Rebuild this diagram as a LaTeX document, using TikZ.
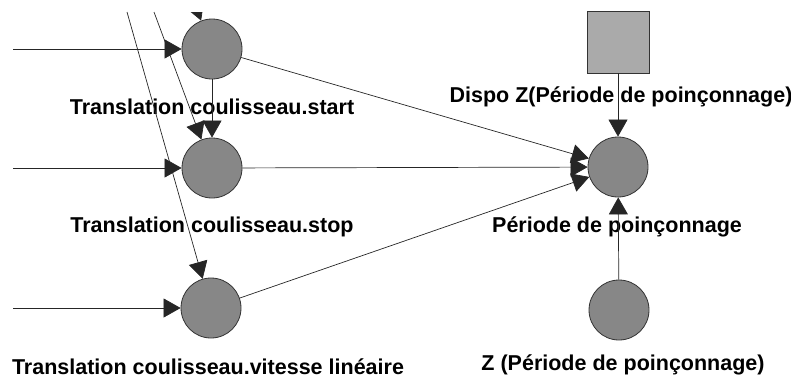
\documentclass[tikz,border=0pt]{standalone}
\usepackage{fontspec}
\setmainfont{Liberation Sans}
\usetikzlibrary{arrows.meta}
\definecolor{circgray}{RGB}{135,135,135}
\definecolor{sqgray}{RGB}{170,170,170}
\begin{document}
\begin{tikzpicture}[x=1pt,y=-1pt,
  place/.style={circle,draw=black!80,fill=circgray,minimum size=60pt,inner sep=0pt,line width=0.8pt},
  sqbox/.style={rectangle,draw=black!80,fill=sqgray,minimum size=62pt,inner sep=0pt,line width=0.8pt},
  lbl/.style={font=\fontsize{21.5}{25}\selectfont\bfseries,inner sep=0pt},
  conn/.style={draw=black!85,line width=0.7pt,-{Triangle[length=17pt,width=19pt]}}]
\useasboundingbox (0,0) rectangle (791,381);
\node[place] (A) at (212,49) {};
\node[place] (B) at (212,168) {};
\node[place] (C) at (211,308) {};
\node[place] (D) at (618,167) {};
\node[place] (E) at (619,310) {};
\node[sqbox] (S) at (618,42) {};
\node[lbl] (lA) at (212,107) {Translation coulisseau.start};
\node[lbl] (lB) at (212,227) {Translation coulisseau.stop};
\node[lbl] (lC) at (208,367) {Translation coulisseau.vitesse linéaire};
\node[lbl] (lS) at (621,97) {Dispo Z(Période de poinçonnage)};
\node[lbl] (lD) at (617,227) {Période de poinçonnage};
\node[lbl] (lE) at (623,365) {Z (Période de poinçonnage)};
\coordinate (inA) at (13,49);
\coordinate (inB) at (13,168);
\coordinate (inC) at (13,308);
\coordinate (d1) at (127,12);
\coordinate (d2) at (154,12);
\coordinate (t0) at (179,-37);
\draw[conn] (inA) -- (A);
\draw[conn] (inB) -- (B);
\draw[conn] (inC) -- (C);
\draw[conn] (d1) -- (C);
\draw[conn] (d2) -- (B);
\draw[conn] (A) -- (B);
\draw[conn] (A) -- (D);
\draw[conn] (B) -- (D);
\draw[conn] (C) -- (D);
\draw[conn] (S) -- (D);
\draw[conn] (E) -- (D);
\begin{scope}
\clip (0,12) rectangle (791,381);
\draw[conn] (t0) -- (A);
\end{scope}
\end{tikzpicture}
\end{document}
